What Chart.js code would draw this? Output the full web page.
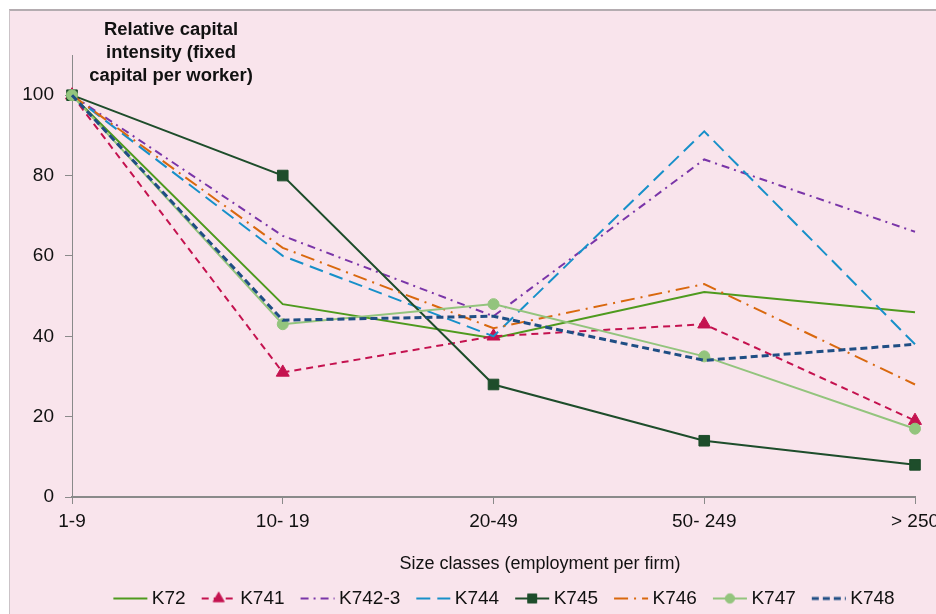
<!DOCTYPE html>
<html><head><meta charset="utf-8">
<script src="https://cdn.jsdelivr.net/npm/chart.js@4.4.1/dist/chart.umd.min.js"></script>
<style>
html,body{margin:0;padding:0;background:#fff;width:936px;height:614px;overflow:hidden;}
#frame{position:absolute;left:9px;top:9px;width:927px;height:605px;background:#f9e4ec;border-top:2px solid #b4acb0;border-left:1px solid #cbc3c7;box-sizing:border-box;}
#wrap{position:absolute;left:0;top:0;width:936px;height:614px;}
</style></head><body>
<div id="frame"></div>
<div id="wrap"><canvas id="c" width="936" height="614"></canvas></div>
<script>
// ---- data ----
const categories = ['1-9', '10- 19', '20-49', '50- 249', '> 250'];
const seriesNames = ['K72', 'K741', 'K742-3', 'K744', 'K745', 'K746', 'K747', 'K748'];
const K72   = [100, 48, 39.5, 51, 46];
const K741  = [100, 31, 40, 43, 19];
const K742_3 = [100, 65, 45, 84, 66];
const K744  = [100, 60, 40, 91, 38];
const K745  = [100, 80, 28, 14, 8];
const K746  = [100, 62, 42, 53, 28];
const K747  = [100, 43, 48, 35, 17];
const K748  = [100, 44, 45, 34, 38];
const yTicks = [0, 20, 40, 60, 80, 100];
const yTitleLines = ['Relative capital', 'intensity (fixed', 'capital per worker)'];
const xTitle = 'Size classes (employment per firm)';

// ---- styles ----
const seriesValues = [K72, K741, K742_3, K744, K745, K746, K747, K748];
const styles = [
  {color:'#4e9a1e', w:2, dash:[], pt:false, r:0},
  {color:'#c4124f', w:2, dash:[7,5], pt:'triangle', r:7.5},
  {color:'#7a35a8', w:2, dash:[8,5,2,5], pt:false, r:0},
  {color:'#1790c9', w:2, dash:[14,7], pt:false, r:0},
  {color:'#1e4d2b', w:2, dash:[], pt:'rect', r:7.5},
  {color:'#d9680e', w:2, dash:[14,6,2,6], pt:false, r:0},
  {color:'#93c47d', w:2, dash:[], pt:'circle', r:5.5},
  {color:'#1f4e84', w:3, dash:[7,4], pt:false, r:0}
];

function makeSwatch(s){
  const c = document.createElement('canvas');
  c.width = 36; c.height = 16;
  const g = c.getContext('2d');
  g.strokeStyle = s.color; g.fillStyle = s.color; g.lineWidth = s.w;
  g.setLineDash(s.dash);
  g.beginPath(); g.moveTo(1, 8); g.lineTo(35, 8); g.stroke();
  g.setLineDash([]);
  if (s.pt) {
    g.lineWidth = 1;
    Chart.helpers.drawPoint(g, {pointStyle: s.pt, radius: s.r * 0.85, borderWidth: 1, rotation: 0}, 18, 8);
  }
  return c;
}
const swatches = styles.map(makeSwatch);

const datasets = seriesNames.map((n, i) => ({
  label: n,
  data: seriesValues[i],
  borderColor: styles[i].color,
  backgroundColor: styles[i].color,
  borderWidth: styles[i].w,
  borderDash: styles[i].dash,
  pointStyle: styles[i].pt || 'circle',
  pointRadius: styles[i].pt ? styles[i].r : 0,
  pointHoverRadius: styles[i].pt ? styles[i].r : 0,
  pointBackgroundColor: styles[i].color,
  pointBorderColor: styles[i].color,
  pointBorderWidth: 1,
  tension: 0,
  fill: false,
  order: seriesNames.length - i
}));

const textPlugin = {
  id: 'texts',
  afterDraw(chart){
    const ctx = chart.ctx;
    ctx.save();
    ctx.fillStyle = '#111';
    ctx.textAlign = 'center';
    ctx.textBaseline = 'middle';
    ctx.font = 'bold 18px "Liberation Sans Narrow", "Liberation Sans", Arial, sans-serif';
    const w1 = ctx.measureText(yTitleLines[0]).width;
    const sx = 134 / w1;
    yTitleLines.forEach((t, i) => {
      ctx.save(); ctx.translate(171, 30 + i * 23); ctx.scale(sx, 1); ctx.fillText(t, 0, 0); ctx.restore();
    });
    ctx.font = '18px "Liberation Sans", Arial, sans-serif';
    const w2 = ctx.measureText(xTitle).width;
    const sx2 = Math.min(1, 290 / w2);
    ctx.save(); ctx.translate(540, 564); ctx.scale(sx2, 1); ctx.fillText(xTitle, 0, 0); ctx.restore();
    ctx.restore();
  }
};

const legendShift = {
  id: 'legendShift',
  afterLayout(chart){
    const l = chart.legend;
    l.left += 49; l.right += 49;
    l.top += 4; l.bottom += 4;
  }
};

new Chart(document.getElementById('c'), {
  type: 'line',
  data: { labels: categories, datasets },
  options: {
    responsive: false,
    animation: false,
    devicePixelRatio: 1,
    layout: { padding: { top: 55, left: 0, right: 21, bottom: 0 } },
    plugins: {
      title: { display: false },
      tooltip: { enabled: false },
      legend: {
        position: 'bottom',
        align: 'center',
        labels: {
          usePointStyle: true,
          pointStyleWidth: 24,
          padding: 21,
          color: '#111',
          font: { family: '"Liberation Sans", Arial, sans-serif', size: 19 },
          sort: (a, b) => a.datasetIndex - b.datasetIndex,
          generateLabels(chart){
            const items = Chart.defaults.plugins.legend.labels.generateLabels(chart);
            items.forEach(it => { it.pointStyle = swatches[it.datasetIndex]; });
            return items;
          }
        }
      }
    },
    scales: {
      x: {
        type: 'category',
        offset: false,
        border: { display: true, color: '#8a8a8a', width: 2 },
        grid: { display: true, drawOnChartArea: false, drawTicks: true, tickLength: 7, color: '#8a8a8a', lineWidth: 1 },
        ticks: { autoSkip: false, maxRotation: 0, padding: 6, color: '#111', font: { family: '"Liberation Sans", Arial, sans-serif', size: 19 } },
        afterFit(s){ s.height = 67; s.paddingLeft = 0; s.paddingRight = 0; }
      },
      y: {
        type: 'linear',
        min: 0, max: 110,
        border: { display: true, color: '#8a8a8a', width: 1 },
        grid: { display: true, drawOnChartArea: false, drawTicks: true, tickLength: 7, color: '#8a8a8a', lineWidth: 1 },
        ticks: { stepSize: 20, includeBounds: false, padding: 11, color: '#111', font: { family: '"Liberation Sans", Arial, sans-serif', size: 19 } },
        afterBuildTicks(s){ s.ticks = yTicks.map(v => ({ value: v })); },
        afterFit(s){ s.width = 72; s.paddingTop = 0; s.paddingBottom = 0; }
      }
    }
  },
  plugins: [textPlugin, legendShift]
});
</script>
</body></html>
